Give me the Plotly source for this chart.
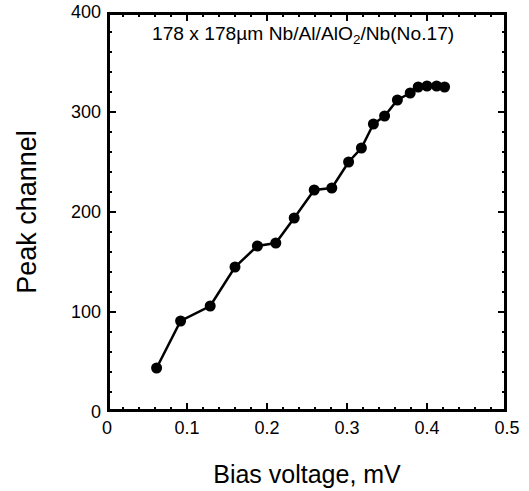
import plotly.graph_objects as go

bias_mv = [0.062, 0.092, 0.129, 0.160, 0.188, 0.211, 0.234, 0.259, 0.281, 0.302,
           0.318, 0.333, 0.347, 0.363, 0.379, 0.389, 0.400, 0.412, 0.422]
peak_channel = [44, 91, 106, 145, 166, 169, 194, 222, 224, 250,
                264, 288, 296, 312, 319, 325, 326, 326, 325]
x_ticks = [0, 0.1, 0.2, 0.3, 0.4, 0.5]
x_ticklabels = ["0", "0.1", "0.2", "0.3", "0.4", "0.5"]
y_ticks = [0, 100, 200, 300, 400]
y_ticklabels = ["0", "100", "200", "300", "400"]
x_minor_step = 0.02
y_minor_step = 20

font_family = "Liberation Sans"
X_RANGE = [0, 0.5]
Y_RANGE = [0, 400]
PLOT_W, PLOT_H = 400, 400
MARGIN = dict(l=107, r=22, t=12, b=79)
x_per_px = (X_RANGE[1] - X_RANGE[0]) / PLOT_W
y_per_px = (Y_RANGE[1] - Y_RANGE[0]) / PLOT_H

fig = go.Figure()

# ---- frame ----
fig.add_trace(go.Scatter(
    x=[X_RANGE[0], X_RANGE[1], X_RANGE[1], X_RANGE[0], X_RANGE[0]],
    y=[Y_RANGE[0], Y_RANGE[0], Y_RANGE[1], Y_RANGE[1], Y_RANGE[0]],
    mode="lines", line=dict(color="black", width=6),
    showlegend=False, hoverinfo="skip",
))

# ---- inside ticks on all four sides, as thin bars placed through the axes ----
n_xminor = int(round((X_RANGE[1] - X_RANGE[0]) / x_minor_step))
x_minor = [X_RANGE[0] + i * x_minor_step for i in range(n_xminor + 1)]
x_minor = [v for v in x_minor if not any(abs(v - t) < 1e-9 for t in x_ticks)]
n_yminor = int(round((Y_RANGE[1] - Y_RANGE[0]) / y_minor_step))
y_minor = [Y_RANGE[0] + i * y_minor_step for i in range(n_yminor + 1)]
y_minor = [v for v in y_minor if not any(abs(v - t) < 1e-9 for t in y_ticks)]

def xticks_bar(vals, length_px):
    L = length_px * y_per_px
    for base in (Y_RANGE[0], Y_RANGE[1] - L):
        fig.add_trace(go.Bar(
            x=vals, y=[L] * len(vals), base=base, width=2 * x_per_px,
            marker=dict(color="black", line=dict(width=0)),
            showlegend=False, hoverinfo="skip",
        ))

def yticks_bar(vals, length_px):
    L = length_px * x_per_px
    for base in (X_RANGE[0], X_RANGE[1] - L):
        fig.add_trace(go.Bar(
            y=vals, x=[L] * len(vals), base=base, width=2 * y_per_px,
            orientation="h",
            marker=dict(color="black", line=dict(width=0)),
            showlegend=False, hoverinfo="skip",
        ))

xticks_bar(x_ticks, 9)
xticks_bar(x_minor, 5)
yticks_bar(y_ticks, 9)
yticks_bar(y_minor, 5)

# ---- data ----
fig.add_trace(go.Scatter(
    x=bias_mv, y=peak_channel, mode="lines+markers",
    line=dict(color="black", width=2.5),
    marker=dict(color="black", size=11),
    showlegend=False, cliponaxis=False,
))

fig.update_xaxes(
    range=X_RANGE, tickmode="array", tickvals=x_ticks, ticktext=x_ticklabels,
    showline=False, ticks="", automargin=False, ticklabelstandoff=3,
    showgrid=False, zeroline=False,
    tickfont=dict(family=font_family, size=18, color="black"),
    title=dict(text="Bias voltage, mV", font=dict(family=font_family, size=25, color="black"), standoff=28),
)
fig.update_yaxes(
    range=Y_RANGE, tickmode="array", tickvals=y_ticks, ticktext=y_ticklabels,
    showline=False, ticks="", automargin=False, ticklabelstandoff=5,
    showgrid=False, zeroline=False,
    tickfont=dict(family=font_family, size=18, color="black"),
    title=dict(text="Peak channel", font=dict(family=font_family, size=27, color="black"), standoff=26),
)

fig.add_annotation(
    x=0.49, xref="paper", y=377, yref="y",
    text="178 x 178µm Nb/Al/AlO<sub>2</sub>/Nb(No.17)",
    showarrow=False, font=dict(family=font_family, size=19.2, color="black"),
    xanchor="center", yanchor="middle",
)

fig.update_layout(
    width=529, height=491,
    margin=MARGIN, barmode="overlay", bargap=0,
    paper_bgcolor="white", plot_bgcolor="white",
)

fig.write_html("out.html")
